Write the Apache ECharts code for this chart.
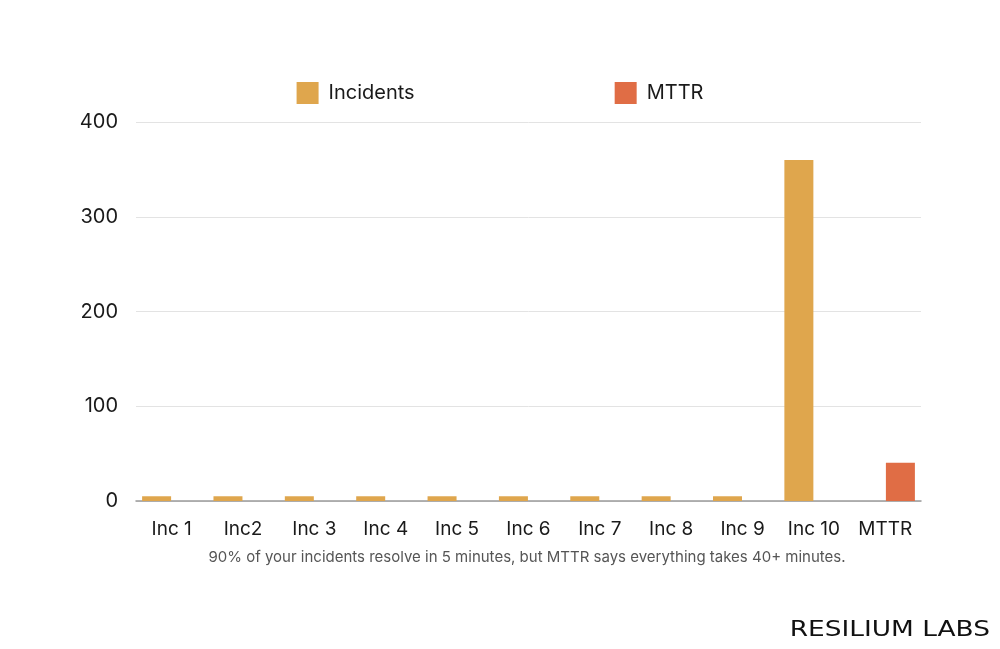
<!DOCTYPE html>
<html><head><meta charset="utf-8">
<script src="https://cdn.jsdelivr.net/npm/echarts@6/dist/echarts.min.js"></script>
<style>html,body{margin:0;padding:0;background:#fff}#c{width:1000px;height:649px}</style>
</head><body><div id="c"></div>
<script>
const categories = ['Inc 1','Inc2','Inc 3','Inc 4','Inc 5','Inc 6','Inc 7','Inc 8','Inc 9','Inc 10','MTTR'];
const incidents = [5,5,5,5,5,5,5,5,5,360,null];
const mttr = [null,null,null,null,null,null,null,null,null,null,40.5];
const yTicks = [0,100,200,300,400];
const caption = '90% of your incidents resolve in 5 minutes, but MTTR says everything takes 40+ minutes.';
const logo = 'RESILIUM LABS';

const chart = echarts.init(document.getElementById('c'));
const font = 'Inter, "Noto Sans", sans-serif';
chart.setOption({
  animation:false,
  legend:{
    data:['Incidents','MTTR'], top:77, left:'center', itemWidth:22, itemHeight:22, itemGap:200,
    icon:'rect',
    textStyle:{fontFamily:font,fontSize:20,color:'#1a1a1a',padding:[0,0,0,5]}
  },
  grid:{left:136,right:79,top:122,bottom:148},
  xAxis:{
    type:'category', data:categories,
    axisLine:{lineStyle:{color:'#9a9a9a',width:1.5}},
    axisTick:{show:false},
    axisLabel:{fontFamily:font,fontSize:19,color:'#1a1a1a',margin:19}
  },
  yAxis:{
    type:'value', min:yTicks[0], max:yTicks[yTicks.length-1], interval:100,
    axisLine:{show:false}, axisTick:{show:false},
    splitLine:{lineStyle:{color:'#e3e3e3'}},
    axisLabel:{fontFamily:font,fontSize:20,color:'#1a1a1a',margin:18}
  },
  series:[
    {name:'Incidents',type:'bar',data:incidents,barWidth:29,barGap:'4%',itemStyle:{color:'#DFA64D'}},
    {name:'MTTR',type:'bar',data:mttr,barWidth:29,itemStyle:{color:'#E06D45'}}
  ],
  graphic:[
    {type:'text',x:527,y:557,style:{text:caption,fontFamily:font,fontSize:15,fill:'#555',align:'center',verticalAlign:'middle'}},
    {type:'text',x:990,y:630,scaleX:1.2,style:{text:logo,fontFamily:'"DejaVu Sans", sans-serif',fontSize:22,fill:'#111',align:'right',verticalAlign:'middle'}}
  ]
});
</script></body></html>
